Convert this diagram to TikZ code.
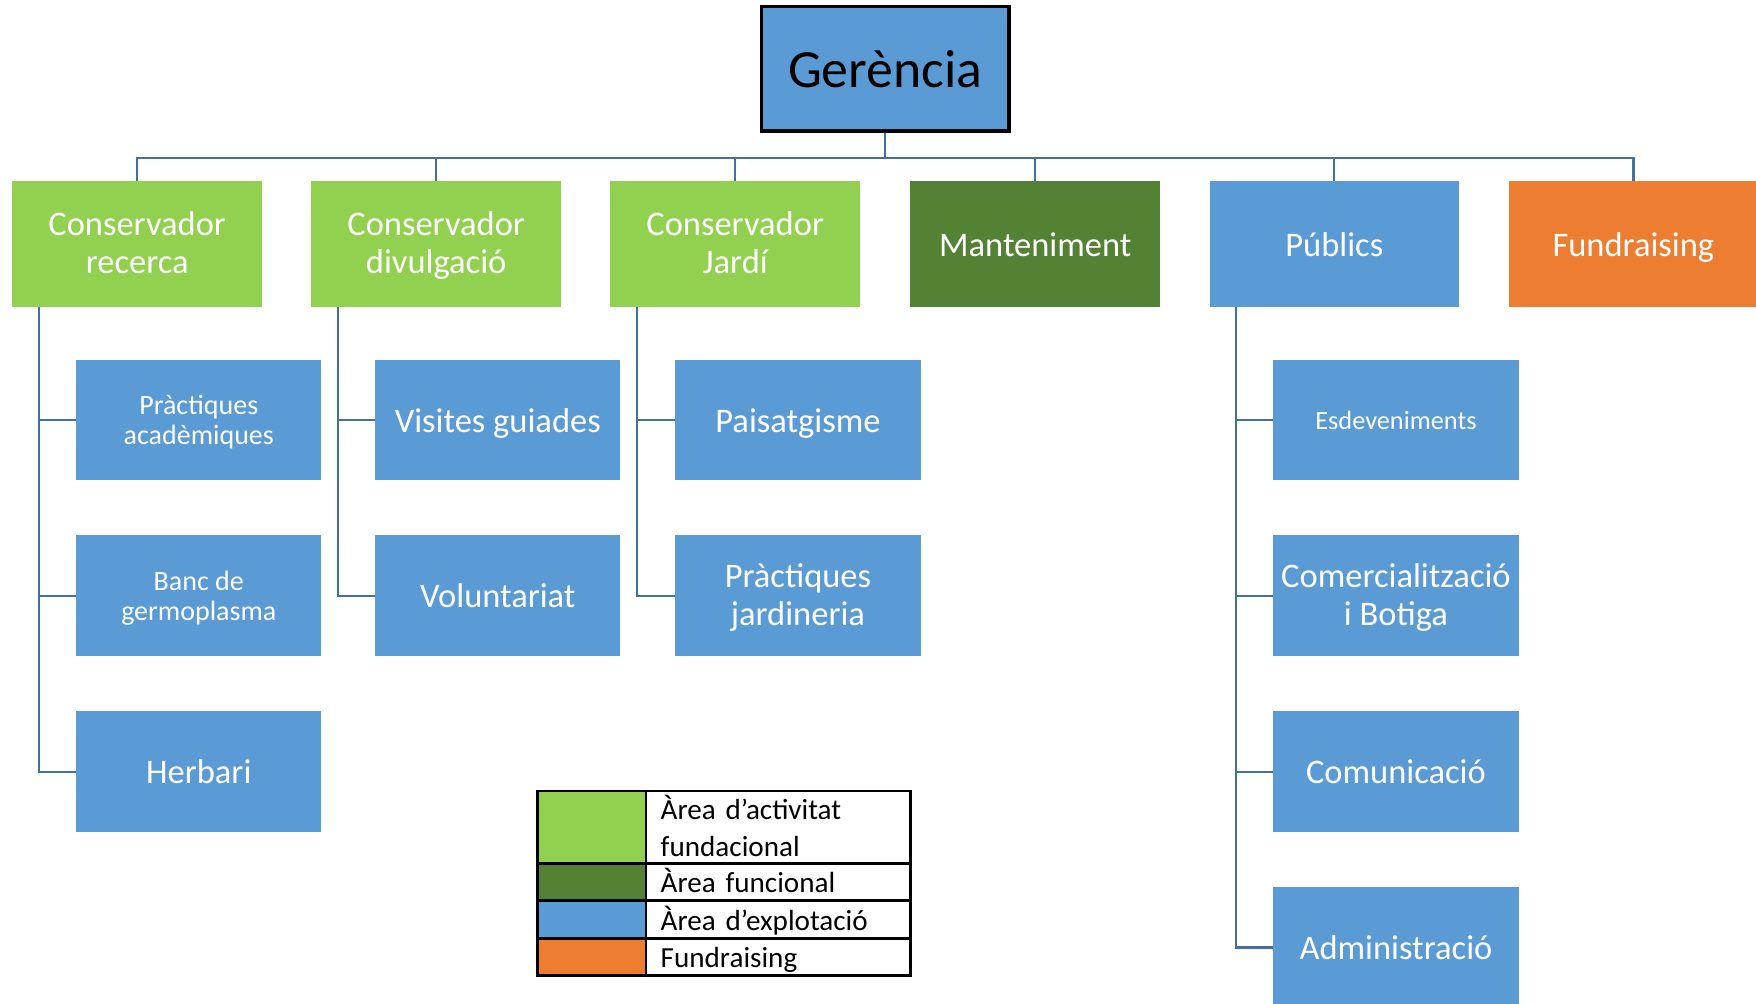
\documentclass[tikz,border=0pt]{standalone}
\usepackage{fontspec}
\setmainfont{Carlito}
\definecolor{lgreen}{HTML}{92D050}
\definecolor{dgreen}{HTML}{548235}
\definecolor{mblue}{HTML}{5B9BD5}
\definecolor{orng}{HTML}{ED7D31}
\definecolor{conn}{HTML}{41719C}
\begin{document}
\begin{tikzpicture}[x=0.5pt,y=-0.5pt,
  strutted/.style={execute at begin node={\strut}, execute at end node={\strut}},
  bigtxt/.style={text=white, align=center, inner sep=0pt, font=\fontsize{15.4}{17}\selectfont, strutted, yshift=-2pt},
  smalltxt/.style={text=white, align=center, inner sep=0pt, font=\fontsize{12.5}{13.5}\selectfont, strutted, yshift=-2pt},
  tinytxt/.style={text=white, align=center, inner sep=0pt, font=\fontsize{11.75}{13}\selectfont, strutted, yshift=-1.5pt},
  legtxt/.style={text=black, align=left, text width=105pt, inner sep=0pt, font=\fontsize{13}{16.5}\selectfont, strutted, yshift=-1.5pt},
  topbox/.style={rectangle, inner sep=0pt, minimum width=111.5pt, minimum height=56pt},
  subbox/.style={rectangle, inner sep=0pt, fill=mblue, minimum width=109.5pt, minimum height=54pt},
  link/.style={draw=conn, line width=1pt},
  swatch/.style={rectangle, draw=black, line width=1pt, minimum width=48.5pt, inner sep=0pt},
  legcell/.style={rectangle, draw=black, line width=1pt, minimum width=118pt, inner sep=0pt}]
\useasboundingbox (0,0) rectangle (1568,896);

% root
\node[rectangle, fill=mblue, draw=black, line width=1.5pt, minimum width=110.5pt, minimum height=55.5pt,
  inner sep=0pt, font=\fontsize{24}{26}\selectfont] (g) at (790.5,61.5) {Gerència};

% level 1
\node[topbox, fill=lgreen, label={[bigtxt]center:{Conservador\\recerca}}] (a) at (122.5,218) {};
\node[topbox, fill=lgreen, label={[bigtxt]center:{Conservador\\divulgació}}] (b) at (389.5,218) {};
\node[topbox, fill=lgreen, label={[bigtxt]center:{Conservador\\Jardí}}] (c) at (656.5,218) {};
\node[topbox, fill=dgreen, label={[bigtxt]center:Manteniment}] (d) at (924.5,218) {};
\node[topbox, fill=mblue, label={[bigtxt]center:Públics}] (e) at (1191.5,218) {};
\node[topbox, fill=orng, label={[bigtxt]center:Fundraising}] (f) at (1458.5,218) {};

\foreach \n in {a,b,c,d,e,f}
  \draw[link] (g.south) -- ++(0,22.5) -| (\n.north);

% children
\node[subbox, label={[smalltxt]center:{Pràctiques\\acadèmiques}}] (a1) at (177.5,375) {};
\node[subbox, label={[smalltxt]center:{Banc de\\germoplasma}}] (a2) at (177.5,532) {};
\node[subbox, label={[bigtxt]center:Herbari}] (a3) at (177.5,689) {};
\node[subbox, label={[bigtxt]center:Visites guiades}] (b1) at (444.5,375) {};
\node[subbox, label={[bigtxt]center:Voluntariat}] (b2) at (444.5,532) {};
\node[subbox, label={[bigtxt]center:Paisatgisme}] (c1) at (712.5,375) {};
\node[subbox, label={[bigtxt]center:{Pràctiques\\jardineria}}] (c2) at (712.5,532) {};
\node[subbox, label={[tinytxt]center:Esdeveniments}] (e1) at (1246.5,375) {};
\node[subbox, label={[bigtxt]center:{Comercialització\\i Botiga}}] (e2) at (1246.5,532) {};
\node[subbox, label={[bigtxt]center:Comunicació}] (e3) at (1246.5,689) {};
\node[subbox, label={[bigtxt]center:Administració}] (e4) at (1246.5,846) {};

\foreach \p/\k in {a/a1,a/a2,a/a3,b/b1,b/b2,c/c1,c/c2,e/e1,e/e2,e/e3,e/e4}
  \draw[link] ([xshift=12pt]\p.south west) |- (\k.west);

% legend
\node[swatch, fill=lgreen, minimum height=32.5pt] (s1) at (528.5,738.5) {};
\node[swatch, fill=dgreen, minimum height=16.5pt] (s2) at (528.5,787.5) {};
\node[swatch, fill=mblue, minimum height=17pt] (s3) at (528.5,821) {};
\node[swatch, fill=orng, minimum height=16.5pt] (s4) at (528.5,854.5) {};
\node[legcell, minimum height=32.5pt, label={[legtxt]center:{Àrea d’activitat\\fundacional}}] (t1) at (695,738.5) {};
\node[legcell, minimum height=16.5pt, label={[legtxt]center:Àrea funcional}] (t2) at (695,787.5) {};
\node[legcell, minimum height=17pt, label={[legtxt]center:Àrea d’explotació}] (t3) at (695,821) {};
\node[legcell, minimum height=16.5pt, label={[legtxt]center:Fundraising}] (t4) at (695,854.5) {};
\end{tikzpicture}
\end{document}
